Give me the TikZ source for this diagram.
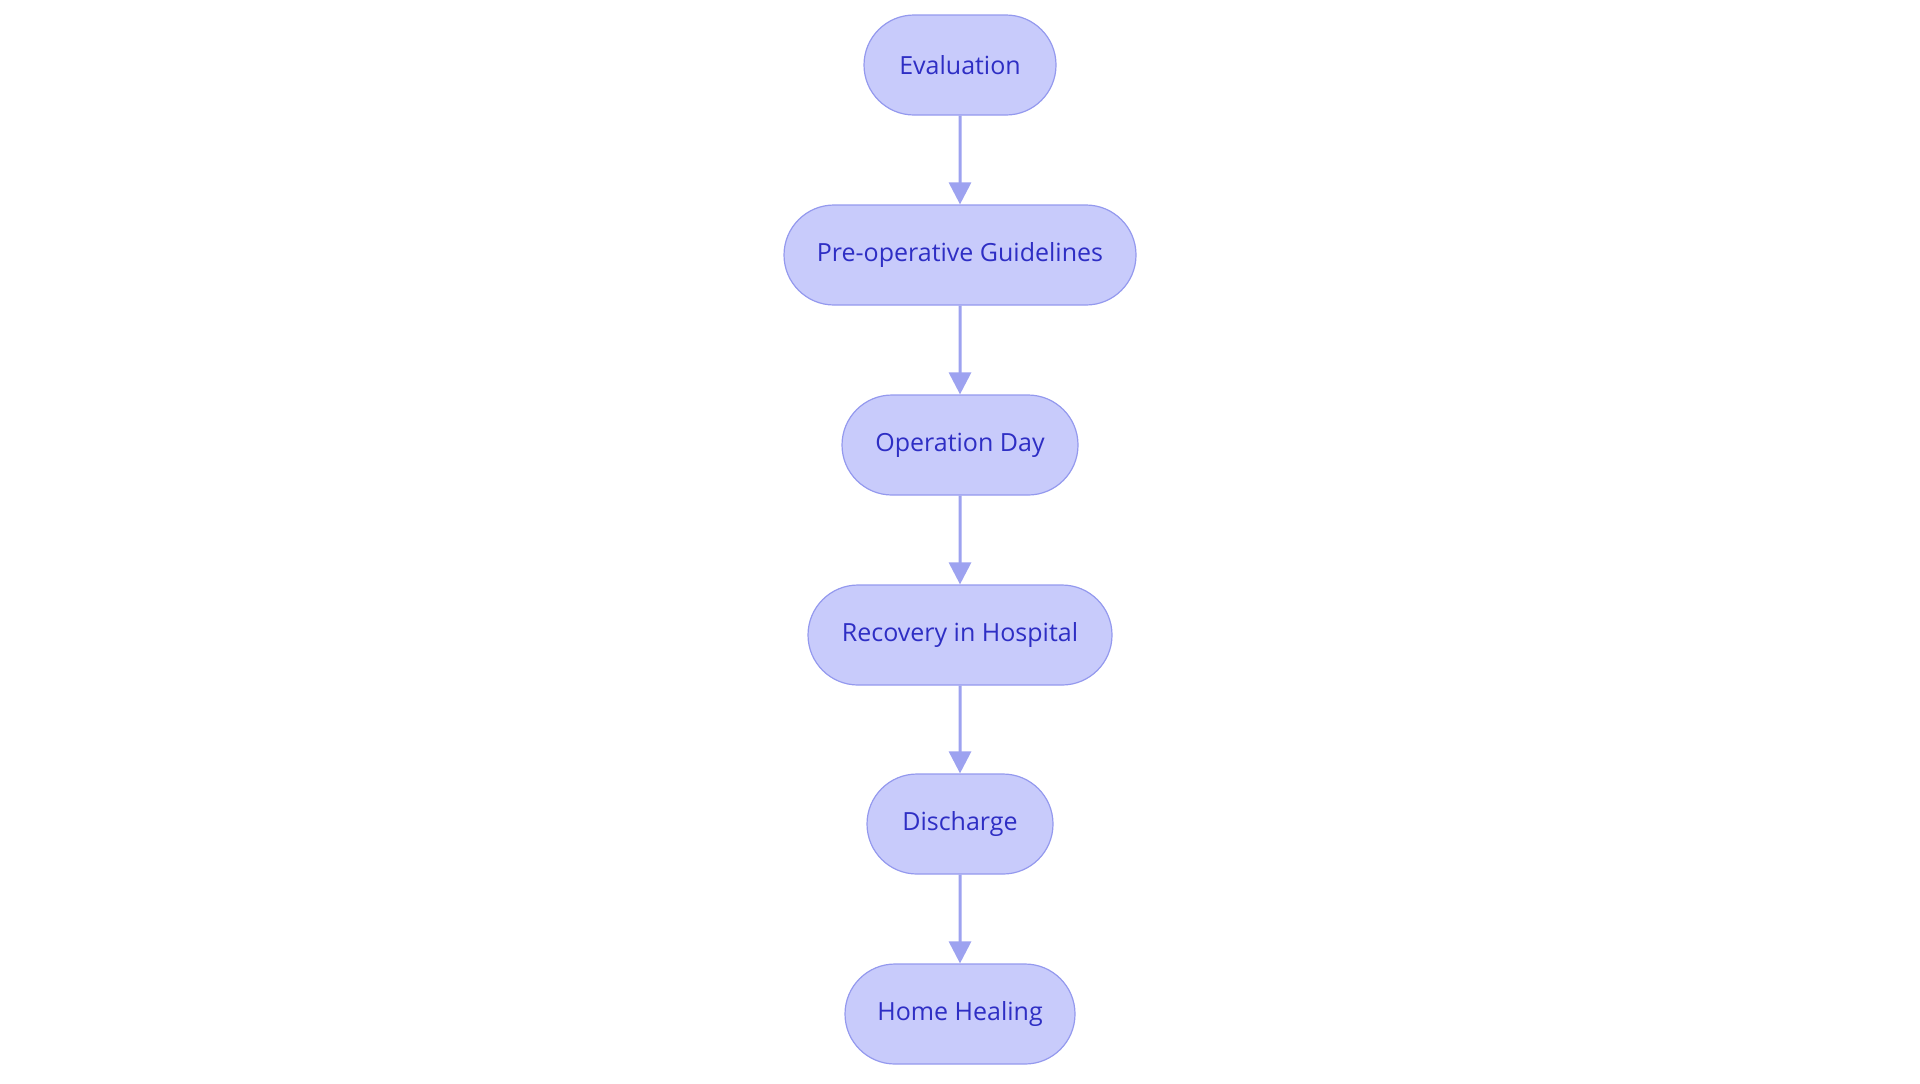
\documentclass[tikz,border=0pt]{standalone}
\usepackage{fontspec}
\setmainfont{Open Sans}
\usetikzlibrary{shapes.misc,arrows.meta}
\definecolor{nfill}{HTML}{C8CBFB}
\definecolor{nline}{HTML}{9499EE}
\definecolor{ntext}{HTML}{2E2EC4}
\definecolor{aline}{HTML}{9DA2F0}
\begin{document}
\begin{tikzpicture}[x=0.5pt,y=-0.5pt,
  box/.style={rounded rectangle, draw=nline, line width=0.6pt, fill=nfill, text=ntext,
    font=\fontsize{12.5}{15}\selectfont, minimum height=50pt, inner sep=0pt},
  arr/.style={draw=aline, line width=1.5pt, -{Triangle[length=11pt,width=11pt]}}]
\useasboundingbox (0,0) rectangle (1920,1083);
\node[box, minimum width=96pt] (a) at (960,65) {Evaluation};
\node[box, minimum width=176pt] (b) at (960,255) {Pre-operative Guidelines};
\node[box, minimum width=118pt] (c) at (960,445) {Operation Day};
\node[box, minimum width=152pt] (d) at (960,635) {Recovery in Hospital};
\node[box, minimum width=93pt] (e) at (960,824) {Discharge};
\node[box, minimum width=115pt] (f) at (960,1014) {Home Healing};
\draw[arr] (a) -- (b);
\draw[arr] (b) -- (c);
\draw[arr] (c) -- (d);
\draw[arr] (d) -- (e);
\draw[arr] (e) -- (f);
\end{tikzpicture}
\end{document}
